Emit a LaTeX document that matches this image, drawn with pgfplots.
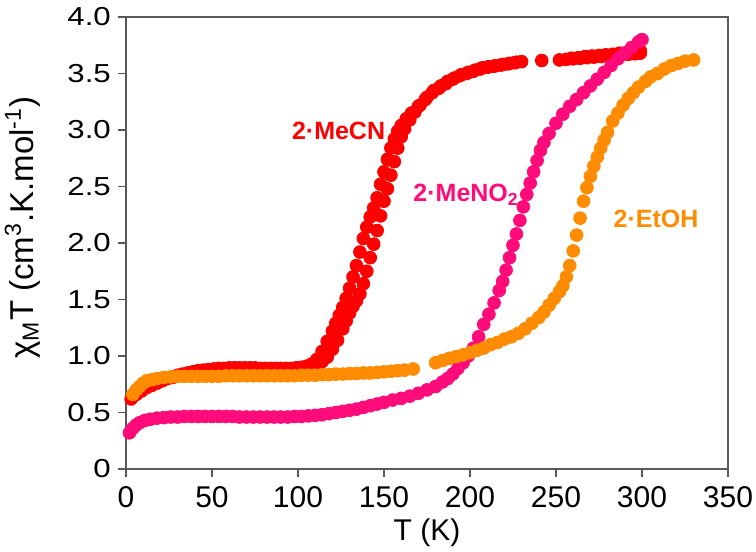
\documentclass[border=0pt]{standalone}
\usepackage{fontspec}
\setmainfont{Liberation Sans}
\newfontfamily\ytickfont{Liberation Sans}[FakeStretch=1.2]
\usepackage{pgfplots}
\pgfplotsset{compat=1.18}
\definecolor{cred}{RGB}{255,0,0}
\definecolor{cpink}{RGB}{255,12,122}
\definecolor{corange}{RGB}{255,140,0}
\begin{document}
\begin{tikzpicture}
\begin{axis}[
  scale only axis, width=301pt, height=226pt,
  xmin=0, xmax=350, ymin=0, ymax=4,
  xtick={0,50,...,350},
  ytick={0,0.5,1,1.5,2,2.5,3,3.5,4},
  yticklabels={0,0.5,1.0,1.5,2.0,2.5,3.0,3.5,4.0},
  /pgf/number format/assume math mode=true,
  tick align=outside, xtick pos=bottom, ytick pos=left,
  major tick length=3.8pt,
  axis line style={black!65, line width=0.6pt},
  every tick/.style={black!65, line width=0.6pt},
  xticklabel style={font=\fontsize{15}{17}\selectfont, inner sep=0pt, yshift=-5pt},
  yticklabel style={font=\ytickfont\fontsize{13}{15}\selectfont, inner sep=0pt, xshift=-3.6pt},
  xlabel style={font=\fontsize{15}{17}\selectfont, at={(axis description cs:0.5,-0.142)}, anchor=center},
  ylabel style={font=\fontsize{16.5}{18}\selectfont, at={(axis description cs:-0.172,0.534)}, anchor=center},
  xlabel={T (K)},
  ylabel={χ\textsubscript{M}T (cm\textsuperscript{3}.K.mol\textsuperscript{-1})},
  clip=false,
]
% 2.MeCN
\addplot[only marks, mark=*, mark size=3.2pt, color=cred, mark options={draw=none, fill=cred}] coordinates {
(3,0.62)(6,0.66)(9,0.69)(12,0.72)(15,0.74)(18,0.76)(21,0.78)(24,0.80)(27,0.81)(30,0.83)(33,0.84)(36,0.85)(39,0.86)(42,0.87)(45,0.875)(48,0.88)(51,0.885)(54,0.89)(57,0.89)(60,0.895)(63,0.895)(66,0.895)(69,0.895)(72,0.895)(75,0.895)(78,0.89)(81,0.89)(84,0.89)(87,0.89)(90,0.89)(93,0.89)(96,0.89)(99,0.895)(102,0.90)
(105,0.905)(108,0.91)(111,0.925)(114,0.95)(117,0.99)(120,1.06)(123,1.14)(126,1.24)(128,1.31)(130,1.38)(132,1.44)(134,1.49)(136,1.55)(138,1.64)(140,1.75)(142,1.87)(144,1.99)(146,2.11)(148,2.24)(150,2.37)(152,2.48)(154,2.60)(156,2.72)(158,2.84)(160,2.94)(162,3.01)(165,3.09)(168,3.16)(171,3.22)(175,3.29)(179,3.35)(183,3.39)(187,3.43)(191,3.46)(195,3.49)(199,3.51)(203,3.53)(207,3.55)(211,3.56)(215,3.57)(219,3.58)(223,3.59)(227,3.60)(230,3.605)(241.7,3.615)(252,3.62)(256,3.625)(260,3.63)(264,3.635)(268,3.64)(272,3.645)(276,3.65)(280,3.655)(284,3.66)(288,3.665)(292,3.67)(296,3.675)(299,3.68)
(299,3.70)(295,3.69)(291,3.685)(287,3.68)(283,3.67)(279,3.665)(275,3.66)(271,3.655)(267,3.65)(263,3.64)(259,3.635)
(105,0.91)(108,0.93)(111,0.97)(114,1.04)(117,1.13)(120,1.22)(122,1.29)(124,1.36)(126,1.43)(128,1.51)(130,1.60)(132,1.70)(134,1.80)(136,1.92)(138,2.04)(140,2.14)(142,2.23)(144,2.31)(146,2.40)(148,2.52)(150,2.63)(152,2.74)(154,2.84)(156,2.92)(158,2.99)(160,3.04)(163,3.10)(166,3.15)(170,3.21)(174,3.27)(178,3.33)(182,3.37)(186,3.41)(190,3.45)(194,3.48)(198,3.50)(202,3.52)(206,3.54)(210,3.555)(214,3.565)(218,3.575)(222,3.585)(226,3.595)
};
% 2.MeNO2
\addplot[only marks, mark=*, mark size=3.2pt, color=cpink, mark options={draw=none, fill=cpink}] coordinates {
(2,0.32)(4,0.36)(6,0.39)(8,0.41)(11,0.43)(14,0.44)(18,0.45)(22,0.455)(26,0.46)(30,0.46)(34,0.465)(38,0.465)(42,0.465)(46,0.465)(50,0.465)(54,0.465)(58,0.465)(62,0.465)(66,0.46)(70,0.46)(74,0.46)(78,0.46)(82,0.46)(86,0.46)(90,0.46)(94,0.46)(98,0.465)(102,0.465)(106,0.47)(110,0.475)(114,0.48)(118,0.49)(122,0.50)(126,0.51)(130,0.52)(134,0.53)(138,0.545)(142,0.56)(146,0.575)(150,0.59)(155,0.61)(160,0.625)(165,0.645)(170,0.67)(175,0.70)(180,0.73)(184,0.77)(187,0.80)(190,0.84)(193,0.89)(196,0.94)(199,1.00)(202,1.07)(205,1.17)(208,1.28)(211,1.37)(214,1.47)(217,1.58)(219,1.66)(221,1.76)(223,1.87)(225,1.98)(227,2.08)(229,2.20)(231,2.32)(233,2.43)(235,2.53)(237,2.63)(239,2.73)(241,2.82)(243,2.89)(246,2.97)(250,3.06)(254,3.14)(258,3.21)(262,3.27)(266,3.33)(270,3.39)(274,3.45)(278,3.51)(282,3.57)(286,3.63)(290,3.68)(294,3.73)(298,3.78)(300,3.80)
};
% 2.EtOH
\addplot[only marks, mark=*, mark size=3.2pt, color=corange, mark options={draw=none, fill=corange}] coordinates {
(4,0.66)(6,0.70)(8,0.73)(10,0.76)(12,0.78)(15,0.79)(18,0.80)(22,0.81)(26,0.815)(30,0.82)(34,0.82)(38,0.82)(42,0.82)(46,0.82)(50,0.82)(54,0.82)(58,0.825)(62,0.825)(66,0.825)(70,0.825)(74,0.825)(78,0.825)(82,0.825)(86,0.825)(90,0.825)(94,0.825)(98,0.825)(102,0.83)(106,0.83)(110,0.83)(114,0.835)(118,0.835)(122,0.84)(126,0.84)(130,0.845)(134,0.845)(138,0.85)(142,0.85)(146,0.855)(150,0.86)(154,0.865)(158,0.87)(162,0.875)(167,0.885)
(180,0.94)(184,0.96)(188,0.98)(192,0.995)(196,1.01)(200,1.03)(204,1.05)(208,1.07)(212,1.10)(216,1.12)(220,1.15)(224,1.17)(228,1.20)(232,1.24)(236,1.29)(240,1.34)(243,1.39)(246,1.45)(249,1.51)(252,1.57)(254,1.62)(256,1.70)(258,1.80)(260,1.93)(262,2.07)(264,2.22)(266,2.37)(268,2.49)(270,2.59)(272,2.68)(274,2.76)(276,2.84)(278,2.91)(280,2.98)(283,3.08)(286,3.15)(289,3.22)(292,3.28)(295,3.33)(298,3.38)(302,3.43)(305,3.47)(309,3.50)(313,3.54)(317,3.57)(321,3.59)(325,3.61)(330,3.62)
};
\node[anchor=base west, inner sep=0pt, text=cred, font=\fontsize{12.5}{14}\selectfont\bfseries] at (axis cs:96.3,2.92) {2·MeCN};
\node[anchor=base west, inner sep=0pt, text=cpink, font=\fontsize{12.5}{14}\selectfont\bfseries] at (axis cs:166.9,2.363) {2·MeNO\textsubscript{2}};
\node[anchor=base west, inner sep=0pt, text=corange, font=\fontsize{12.5}{14}\selectfont\bfseries] at (axis cs:283.3,2.135) {2·EtOH};
\end{axis}
\pgfresetboundingbox
\useasboundingbox (-63pt,-41.5pt) rectangle (315pt,234.5pt);
\end{tikzpicture}
\end{document}
